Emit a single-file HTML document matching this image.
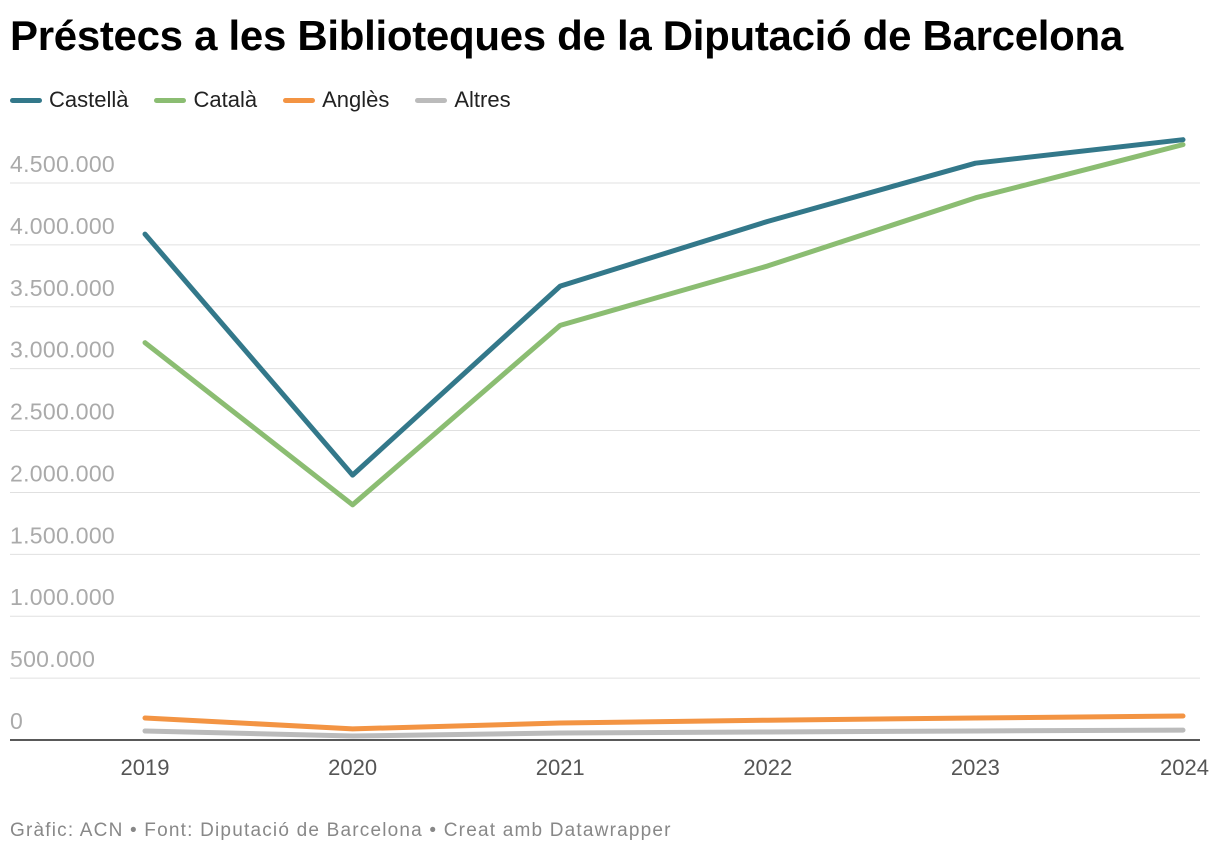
<!DOCTYPE html>
<html><head><meta charset="utf-8">
<style>
body{margin:0;background:#fff;font-family:"Liberation Sans",sans-serif;}
#wrap{position:relative;width:1220px;height:856px;overflow:hidden;}
h1{position:absolute;left:10px;top:12px;margin:0;font-size:42px;font-weight:bold;color:#000;letter-spacing:-0.3px;}
.legend{position:absolute;left:10px;top:87px;font-size:22px;color:#222;display:flex;gap:0;}
.li{display:flex;align-items:center;margin-right:26px;}
.sw{width:32px;height:5px;border-radius:3px;margin-right:7px;}
.footer{position:absolute;left:10px;top:820px;font-size:19px;color:#888;letter-spacing:1.2px;}
svg{position:absolute;left:0;top:0;}
</style></head><body>
<div id="wrap">
<h1>Préstecs a les Biblioteques de la Diputació de Barcelona</h1>
<div class="legend">
<div class="li"><span class="sw" style="background:#33788a"></span>Castellà</div>
<div class="li"><span class="sw" style="background:#8bbd72"></span>Català</div>
<div class="li"><span class="sw" style="background:#f39443"></span>Anglès</div>
<div class="li"><span class="sw" style="background:#bbbbbb"></span>Altres</div>
</div>
<svg id="plot" width="1220" height="856"></svg>
<div class="footer">Gràfic: ACN • Font: Diputació de Barcelona • Creat amb Datawrapper</div>
</div>
<script>
const years=["2019","2020","2021","2022","2023","2024"];
const castella=[4087000,2140000,3667000,4190000,4660000,4850000];
const catala=[3210000,1900000,3350000,3830000,4380000,4810000];
const angles=[178000,90000,137000,160000,178000,194000];
const altres=[73000,32000,57000,65000,73000,80000];
const yTicks=[0,500000,1000000,1500000,2000000,2500000,3000000,3500000,4000000,4500000];
const yTickLabels=["0","500.000","1.000.000","1.500.000","2.000.000","2.500.000","3.000.000","3.500.000","4.000.000","4.500.000"];
const svg=document.getElementById('plot');const NS="http://www.w3.org/2000/svg";
const y=v=>740-v*(557/4500000);
const x=i=>145+i*(1038/(years.length-1));
function mk(t,a){const e=document.createElementNS(NS,t);for(const k in a)e.setAttribute(k,a[k]);svg.appendChild(e);return e;}
yTicks.forEach((t,i)=>{
 if(t>0){const g=mk('line',{x1:10,x2:1200,y1:y(t),y2:y(t),stroke:'#e0e0e0','stroke-width':1});
 
 }
 const l=mk('text',{x:10,y:y(t)-11,'font-size':23,fill:'#aaaaaa','font-family':'Liberation Sans, sans-serif','letter-spacing':'0.3'});
 l.textContent=yTickLabels[i];
 
 
});
const ax=mk('line',{x1:10,x2:1200,y1:740,y2:740,stroke:'#222','stroke-width':1.5});


years.forEach((yr,i)=>{
 const anchor=i===years.length-1?'end':'middle';
 const t=mk('text',{x:i===years.length-1?1209:x(i),y:775,'font-size':22,fill:'#555','text-anchor':anchor,'font-family':'Liberation Sans, sans-serif'});
 t.textContent=yr;
 
 
});
function line(data,color,name){
 const p=mk('polyline',{points:data.map((v,i)=>x(i)+','+y(v)).join(' '),fill:'none',stroke:color,'stroke-width':5,'stroke-linejoin':'round','stroke-linecap':'round'});
 
 
}
line(altres,'#bbbbbb','line-altres');
line(angles,'#f39443','line-angles');
line(catala,'#8bbd72','line-catala');
line(castella,'#33788a','line-castella');
</script>
</body></html>
